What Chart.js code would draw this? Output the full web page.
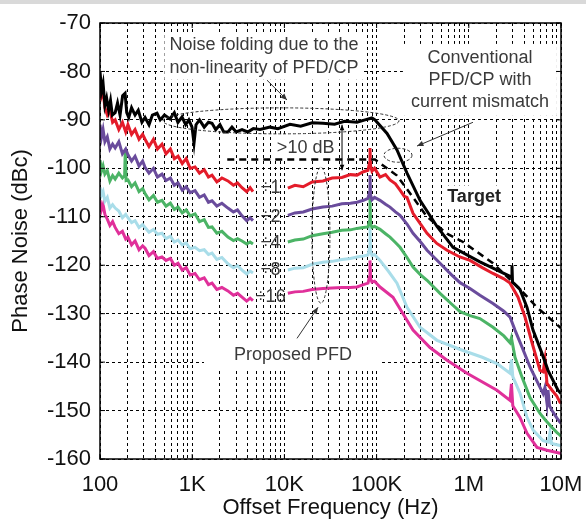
<!DOCTYPE html>
<html>
<head>
<meta charset="utf-8">
<script src="https://cdn.jsdelivr.net/npm/chart.js@4.4.0/dist/chart.umd.min.js"></script>
<style>
  body { margin: 0; background: #fff; }
  canvas { display: block; }
</style>
</head>
<body>
<canvas id="myChart" width="586" height="523"></canvas>
<script>
// offset frequency (Hz), phase noise (dBc); null = gap for the divider label
const conventional = [[100,-80],[104,-84],[108,-82.5],[113,-87],[118,-85.5],[124,-88],[130,-86],[136,-89],[146,-88.5],[155,-86.5],[165,-89],[176,-85],[187,-84.5],[195,-88.5],[205,-89.5],[220,-87.5],[240,-89],[260,-88],[285,-90.5],[308,-89.5],[340,-91],[370,-89],[415,-88.6],[450,-90],[500,-89],[574,-89.8],[640,-88.5],[700,-90.5],[775,-89.4],[850,-91],[920,-90],[995,-91.5],[1046,-94.8],[1100,-91],[1200,-90],[1350,-91.5],[1500,-90.5],[1640,-90.7],[1800,-92],[2000,-91],[2200,-92.5],[2440,-92.5],[2700,-91.5],[3000,-92.5],[3470,-92],[4000,-92.5],[4600,-91.8],[5440,-92],[6980,-91.5],[8500,-91.8],[11500,-90.9],[15000,-91.3],[20000,-90.6],[26200,-90.7],[35000,-90.9],[45000,-90.3],[61300,-90.5],[75000,-90],[89000,-89.6],[96100,-90],[129800,-92.8],[166400,-96.2],[213700,-101],[295800,-106.6],[452100,-112],[674500,-116.3],[1.32e6,-119.3],[1.83e6,-120.6],[2.8e6,-122.3],[2.9e6,-122.5],[2.94e6,-120],[2.98e6,-123.5],[3.59e6,-125],[4.28e6,-128.7],[4.97e6,-133.4],[6.22e6,-138.2],[7.23e6,-141.7],[9.27e6,-145.8],[1e7,-146.5]];

const div1 = [[100,-82.8],[104,-85],[108,-84],[113,-87.5],[120,-89],[128,-88],[137,-90.5],[146,-90],[160,-92],[175,-90.5],[190,-92.5],[201,-91],[220,-93],[240,-92],[265,-94],[290,-93],[308,-94],[340,-95.5],[380,-94],[420,-96],[470,-95],[520,-97],[580,-96],[640,-98],[702,-97.5],[780,-99],[860,-98],[950,-100],[1073,-99.7],[1200,-101],[1350,-100.3],[1500,-101.8],[1640,-101.4],[1850,-102.8],[2100,-102],[2440,-102.6],[2800,-103.5],[3100,-103],[3470,-104],[3900,-104.8],[4250,-104],[4560,-104.8],[7000,null],[10900,-104.1],[13000,-103.5],[16000,-103.8],[20000,-102.8],[26200,-102.6],[33000,-102],[42000,-101.9],[52000,-101.3],[61300,-101.4],[72000,-100.7],[80700,-100.4],[83500,-99],[84800,-95.8],[86000,-99.5],[89100,-100.6],[95000,-100],[108900,-101.8],[125000,-101.3],[139700,-102.4],[160000,-103.2],[179500,-104.5],[200000,-105.8],[213700,-106],[248300,-109.3],[300000,-111.5],[352400,-113.4],[450000,-115.5],[580600,-116.9],[800000,-118.3],[1.03e6,-119],[1.4e6,-120.5],[1.83e6,-121.7],[2.4e6,-122.8],[2.8e6,-123.7],[3.42e6,-126.6],[4.07e6,-130.7],[4.85e6,-136],[5.92e6,-141.7],[6.4e6,-142],[6.7e6,-139.5],[7.05e6,-144.4],[7.99e6,-145.8],[9e6,-147],[9.75e6,-148.3],[1e7,-148.5]];

const div2 = [[100,-91],[104,-93.5],[108,-92],[113,-94.5],[120,-93.5],[128,-96],[137,-95],[146,-95.8],[160,-94.5],[175,-97],[190,-96],[201,-97.2],[220,-98.5],[240,-97.5],[265,-99.5],[290,-98.5],[308,-99.8],[340,-101],[380,-100],[420,-101.8],[470,-101.2],[520,-102.5],[580,-102],[640,-103.5],[702,-103],[780,-104.5],[860,-103.8],[950,-105],[1073,-104.6],[1200,-106],[1350,-105.5],[1500,-107],[1640,-106.7],[1850,-107.8],[2100,-107.2],[2440,-108.2],[2800,-109],[3100,-108.6],[3470,-109.8],[3900,-110.8],[4250,-110.2],[4560,-110.8],[7000,null],[10900,-109.7],[13000,-109.2],[16000,-109],[20000,-108.4],[26200,-108],[33000,-107.8],[42000,-107.3],[52000,-107.2],[61300,-107],[72000,-106.6],[80700,-106.2],[83500,-105],[84800,-101.4],[86000,-105.5],[89100,-106.5],[95000,-106],[108900,-106.6],[125000,-107.4],[139700,-108],[160000,-109],[179500,-109.7],[213700,-111.5],[248300,-113.4],[300000,-115.2],[352400,-116.9],[487400,-119.6],[650000,-122],[803500,-123.6],[1.03e6,-124.8],[1.32e6,-126.2],[1.83e6,-127.9],[2.4e6,-129.5],[2.8e6,-130.7],[3.17e6,-133.4],[3.78e6,-136.9],[4.61e6,-141],[5.92e6,-145.2],[6.4e6,-146.5],[6.7e6,-145.2],[7.05e6,-148.5],[7.23e6,-145.8],[7.5e6,-149],[7.99e6,-150],[9e6,-151.5],[9.75e6,-152.4],[1e7,-152.6]];

const div4 = [[100,-98.3],[104,-100.5],[108,-99.5],[113,-101.2],[120,-100.5],[128,-102.6],[137,-101.5],[146,-102.2],[160,-101],[175,-102],[185,-101.5],[188,-96.2],[192,-102.5],[201,-102.4],[220,-103.8],[240,-103],[265,-104.8],[290,-104.2],[308,-105.2],[340,-106.5],[380,-105.6],[420,-107],[470,-106.6],[520,-107.8],[580,-107.2],[640,-108.5],[702,-108],[780,-109.2],[860,-108.6],[950,-109.8],[1073,-109.4],[1200,-111],[1350,-110.6],[1500,-112.2],[1640,-112.1],[1850,-113.4],[2100,-113],[2440,-114.2],[2800,-114.9],[3100,-114.5],[3470,-115],[3900,-115.6],[4250,-115.2],[4560,-115.6],[7000,null],[10900,-115.2],[13000,-114.8],[16000,-114.6],[20000,-113.9],[26200,-113.5],[33000,-113.2],[42000,-112.8],[52000,-112.7],[61300,-112.4],[72000,-112.2],[80700,-112.1],[83500,-111],[84800,-106],[86000,-111.5],[89100,-112.2],[95000,-112],[108900,-112.6],[125000,-113.5],[139700,-114.2],[160000,-115.3],[179500,-116.3],[213700,-118.4],[248300,-120.4],[300000,-122],[352400,-123.1],[487400,-125.8],[650000,-128],[803500,-129.6],[1.03e6,-130.4],[1.32e6,-131],[1.83e6,-132.8],[2.4e6,-134.6],[2.8e6,-136],[2.9e6,-135],[3e6,-136.5],[3.17e6,-139],[3.78e6,-143.1],[4.61e6,-147.3],[5.92e6,-150.6],[6.8e6,-152],[7.99e6,-153.5],[9e6,-154.5],[9.75e6,-155.1],[1e7,-155.3]];

const div8 = [[100,-103.9],[104,-105.5],[108,-104.8],[113,-106.8],[120,-106],[128,-108.2],[137,-107.5],[146,-108.2],[160,-108.8],[175,-110.2],[190,-109.5],[201,-110.2],[220,-111.2],[240,-110.8],[265,-112.2],[290,-111.6],[308,-112.2],[340,-113.2],[380,-112.6],[420,-113.6],[470,-113.4],[520,-114.5],[580,-114],[640,-115.2],[702,-114.8],[780,-115.8],[860,-115.4],[950,-116.6],[1073,-116.3],[1200,-117],[1350,-116.8],[1500,-117.8],[1640,-117.5],[1850,-118.8],[2100,-118.4],[2440,-119.7],[2800,-120.5],[3100,-120.1],[3470,-121],[3900,-121.8],[4250,-121.2],[4560,-121.6],[7000,null],[10900,-121],[13000,-120.6],[16000,-120.5],[20000,-119.8],[26200,-119.4],[33000,-119.2],[42000,-118.8],[52000,-118.6],[61300,-118.3],[72000,-118.1],[80700,-117.9],[83500,-116.5],[84800,-112],[86000,-117],[89100,-118],[95000,-117.8],[108900,-119],[135000,-121.3],[166400,-123.7],[213700,-128.7],[295800,-132.8],[452100,-135.5],[865800,-137.6],[1.4e6,-139],[2.02e6,-140.3],[2.8e6,-142.3],[2.9e6,-139.5],[3e6,-143],[3.59e6,-146.4],[4.28e6,-151.4],[4.97e6,-154],[6.38e6,-156.2],[7.3e6,-156.5],[7.6e6,-154.5],[7.9e6,-156.8],[9.75e6,-157.2],[1e7,-157.3]];

const div16 = [[100,-106.6],[104,-108.5],[108,-107.5],[113,-109.5],[120,-110.5],[128,-111.8],[137,-111],[146,-112.2],[160,-113.5],[175,-113],[190,-114.6],[201,-114.2],[220,-115.8],[240,-115],[265,-116.8],[290,-116],[308,-116.5],[340,-118],[380,-117.2],[420,-118.6],[470,-118.3],[520,-119],[580,-118.6],[640,-120],[702,-119.6],[780,-121],[860,-120.5],[950,-122],[1073,-121.7],[1200,-123],[1350,-122.6],[1500,-124],[1640,-123.7],[1850,-125],[2100,-124.6],[2440,-125.3],[2800,-126.2],[3100,-125.8],[3470,-126.6],[3900,-127.4],[4250,-126.8],[4560,-127.3],[7000,null],[10900,-125.8],[13000,-125.5],[16000,-125.4],[20000,-125],[26200,-124.8],[33000,-124.7],[42000,-124.6],[52000,-124.6],[61300,-124.5],[72000,-124],[80700,-123.7],[83500,-122.5],[84800,-119],[86000,-122.8],[89100,-123.5],[95000,-123.3],[108900,-124.5],[150600,-126.6],[193300,-130],[248300,-133.4],[379300,-137],[580600,-139.6],[955700,-142.3],[2.02e6,-145.8],[2.8e6,-147.9],[2.9e6,-144.5],[3e6,-149],[3.59e6,-151.4],[4.28e6,-154.7],[5.49e6,-157.6],[7.05e6,-158.2],[9.75e6,-158.8],[1e7,-158.9]];

const target = [[2400,-98.2],[96100,-98.2],[166400,-101.5],[248300,-106],[352400,-110],[580600,-113.5],[865800,-115.2],[1.83e6,-119.6],[3.42e6,-124.5],[5.49e6,-128.7],[9.75e6,-132.8],[1e7,-133]];

const majorTicks = [100, 1e3, 1e4, 1e5, 1e6, 1e7];
const xTickLabels = ['100', '1K', '10K', '100K', '1M', '10M'];
const dividerLabels = ['÷1', '÷2', '÷4', '÷8', '÷16'];
const dividerLevels = [-104.1, -110.1, -115.5, -121, -126.6];

const FONT = "'Liberation Sans', Arial, sans-serif";
const NOTE = '#3a3a3a';

function toXY(arr) {
  return arr.map(p => ({x: p[0], y: p[1]}));
}

function series(data, color) {
  return {data: toXY(data), borderColor: color, borderWidth: 3, pointRadius: 0, tension: 0, spanGaps: false};
}

// every 1..9 step in each decade
const xTicks = [];
majorTicks.slice(0, -1).forEach(d => { for (let m = 1; m < 10; m++) xTicks.push(d * m); });
xTicks.push(1e7);

function arrowHead(ctx, x1, y1, x2, y2, size) {
  const a = Math.atan2(y2 - y1, x2 - x1);
  ctx.beginPath();
  ctx.moveTo(x2, y2);
  ctx.lineTo(x2 - size * Math.cos(a - 0.4), y2 - size * Math.sin(a - 0.4));
  ctx.lineTo(x2 - size * Math.cos(a + 0.4), y2 - size * Math.sin(a + 0.4));
  ctx.closePath();
  ctx.fill();
}

const notes = [
  {lines: ['Noise folding due to the', 'non-linearity of PFD/CP'], at: [6000, -74.5], gap: 23, padX: 5, padY: 2},
  {lines: ['Conventional', 'PFD/CP with', 'current mismatch'], at: [1.32e6, -77.2], gap: 22, padX: 8, padY: 4},
  {lines: ['>10 dB'], at: [17000, -95.8], gap: 0, padX: 4, padY: 1},
  {lines: ['Target'], at: [1.14e6, -106], gap: 0, padX: 4, padY: 2, bold: true},
  {lines: ['Proposed PFD'], at: [12400, -138.6], gap: 0, padX: 30, padY: 5}
];

const annotPlugin = {
  id: 'annot',
  beforeDraw(chart) {
    const ctx = chart.ctx;
    ctx.save();
    ctx.fillStyle = '#fff';
    ctx.fillRect(0, 0, chart.width, chart.height);
    ctx.fillStyle = '#d9d9d9';
    ctx.fillRect(0, 0, chart.width, 4);
    ctx.restore();
  },
  beforeDatasetsDraw(chart) {
    const ctx = chart.ctx, xs = chart.scales.x, ys = chart.scales.y;
    ctx.save();
    ctx.textAlign = 'center';
    ctx.textBaseline = 'middle';
    notes.forEach(n => {
      ctx.font = (n.bold ? 'bold ' : '') + '18px ' + FONT;
      const cx = xs.getPixelForValue(n.at[0]);
      const cy = ys.getPixelForValue(n.at[1]);
      const w = Math.max(...n.lines.map(l => ctx.measureText(l).width));
      const h = n.gap * (n.lines.length - 1) + 20;
      ctx.fillStyle = '#fff';
      ctx.fillRect(cx - w / 2 - n.padX, cy - 10 - n.padY, w + 2 * n.padX, h + 2 * n.padY);
      ctx.fillStyle = n.bold ? '#222' : NOTE;
      n.lines.forEach((l, i) => ctx.fillText(l, cx, cy + i * n.gap));
    });
    ctx.font = '18px ' + FONT;
    ctx.fillStyle = NOTE;
    dividerLabels.forEach((l, i) => {
      ctx.fillText(l, xs.getPixelForValue(7100), ys.getPixelForValue(dividerLevels[i]));
    });
    ctx.restore();
  },
  afterDatasetsDraw(chart) {
    const ctx = chart.ctx, xs = chart.scales.x, ys = chart.scales.y;
    const px = f => xs.getPixelForValue(f), py = v => ys.getPixelForValue(v);
    ctx.save();
    ctx.strokeStyle = '#333';
    ctx.fillStyle = '#333';
    ctx.lineWidth = 1;
    // dashed ellipses
    ctx.setLineDash([3, 2]);
    [[9190, -90.2, 118, 13], [170600, -97.3, 14, 7], [24900, -113.8, 9, 68]].forEach(e => {
      ctx.beginPath();
      ctx.ellipse(px(e[0]), py(e[1]), e[2], e[3], 0, 0, Math.PI * 2);
      ctx.stroke();
    });
    ctx.setLineDash([]);
    // pointer arrows
    [[6475, -81.8, 10670, -85.9], [1.11e6, -90.5, 274300, -95.4], [13700, -135.1, 23140, -128.7]].forEach(a => {
      const x1 = px(a[0]), y1 = py(a[1]), x2 = px(a[2]), y2 = py(a[3]);
      ctx.beginPath();
      ctx.moveTo(x1, y1);
      ctx.lineTo(x2, y2);
      ctx.stroke();
      arrowHead(ctx, x1, y1, x2, y2, 7);
    });
    // >10 dB double arrow
    ctx.strokeStyle = '#000';
    ctx.fillStyle = '#000';
    const ax = px(42170), ay1 = py(-91), ay2 = py(-100.4);
    ctx.beginPath();
    ctx.moveTo(ax, ay1);
    ctx.lineTo(ax, ay2);
    ctx.stroke();
    arrowHead(ctx, ax, ay2, ax, ay1, 6);
    arrowHead(ctx, ax, ay1, ax, ay2, 6);
    ctx.restore();
  },
  afterDraw(chart) {
    const ctx = chart.ctx, a = chart.chartArea, xs = chart.scales.x, ys = chart.scales.y;
    ctx.save();
    ctx.strokeStyle = '#000';
    ctx.lineWidth = 1.5;
    ctx.strokeRect(a.left, a.top, a.right - a.left, a.bottom - a.top);
    ctx.lineWidth = 1;
    ctx.beginPath();
    ys.ticks.forEach(t => {
      const y = ys.getPixelForValue(t.value);
      ctx.moveTo(a.left, y); ctx.lineTo(a.left + 5, y);
      ctx.moveTo(a.right, y); ctx.lineTo(a.right - 5, y);
    });
    majorTicks.forEach(v => {
      const x = xs.getPixelForValue(v);
      ctx.moveTo(x, a.bottom); ctx.lineTo(x, a.bottom - 5);
      ctx.moveTo(x, a.top); ctx.lineTo(x, a.top + 5);
    });
    ctx.stroke();
    ctx.restore();
  }
};

const ctx = document.getElementById('myChart').getContext('2d');
const myChart = new Chart(ctx, {
  type: 'line',
  data: {
    datasets: [
      Object.assign(series(target, '#000'), {borderWidth: 2.5, borderDash: [7, 5]}),
      series(conventional, '#000'),
      series(div1, '#e41c2a'),
      series(div2, '#6a4c9c'),
      series(div4, '#4cb466'),
      series(div8, '#a9dde9'),
      series(div16, '#e0309a')
    ]
  },
  options: {
    responsive: false,
    animation: false,
    layout: {padding: {top: 23, right: 25, left: 0, bottom: 0}},
    plugins: {legend: {display: false}, tooltip: {enabled: false}},
    scales: {
      x: {
        type: 'logarithmic',
        min: 100,
        max: 1e7,
        afterBuildTicks: scale => { scale.ticks = xTicks.map(v => ({value: v})); },
        afterFit: scale => { scale.height = 64; scale.paddingLeft = 0; scale.paddingRight = 0; },
        ticks: {
          autoSkip: false,
          maxRotation: 0,
          padding: 13,
          color: '#111',
          font: {family: FONT, size: 22},
          callback: v => {
            const i = majorTicks.indexOf(v);
            return i >= 0 ? xTickLabels[i] : '';
          }
        },
        grid: {color: '#000', lineWidth: 1, drawTicks: false},
        border: {display: false, dash: [3, 3]},
        title: {display: true, text: 'Offset Frequency (Hz)', color: '#111', font: {family: FONT, size: 22}, padding: {bottom: 2}}
      },
      y: {
        min: -160,
        max: -70,
        afterFit: scale => { scale.width = 100; },
        ticks: {stepSize: 10, padding: 9, color: '#111', font: {family: FONT, size: 22}},
        grid: {color: '#000', lineWidth: 1, drawTicks: false},
        border: {display: false, dash: [3, 3]},
        title: {display: true, text: 'Phase Noise (dBc)', color: '#111', font: {family: FONT, size: 22}, padding: {top: 8}}
      }
    }
  },
  plugins: [annotPlugin]
});
</script>
</body>
</html>
